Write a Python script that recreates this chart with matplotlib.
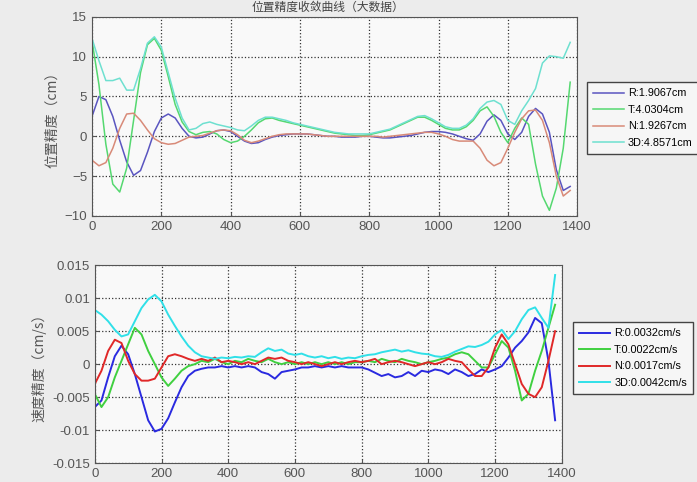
import matplotlib.pyplot as plt

plt.rcParams['font.family'] = ['Liberation Sans', 'Noto Sans CJK SC']

# 采样点
x = list(range(0, 1400, 20))

# 位置精度 (cm)
pos_r = [2.5, 5.0, 4.6, 2.5, -0.5, -3.2, -4.9, -4.3, -2.0, 0.6,
         2.3, 2.8, 2.3, 1.0, 0.0, -0.2, -0.1, 0.3, 0.7, 0.8,
         0.6, 0.0, -0.6, -0.9, -0.8, -0.4, -0.1, 0.1, 0.2, 0.3,
         0.3, 0.3, 0.2, 0.1, 0.0, 0.0, -0.1, -0.1, -0.1, 0.0,
         0.0, -0.1, -0.2, -0.2, -0.1, 0.0, 0.1, 0.3, 0.5, 0.6,
         0.6, 0.5, 0.3, 0.0, -0.3, -0.5, 0.3, 1.9, 2.7, 2.0,
         0.3, -0.4, 0.5, 2.5, 3.5, 2.8, 0.5, -4.2, -6.8, -6.3]
pos_t = [12.0, 6.5, -1.0, -6.0, -7.0, -4.0, 2.0, 8.0, 11.5, 12.3,
         10.8, 7.5, 4.0, 1.8, 0.6, 0.2, 0.5, 0.6, 0.3, -0.4,
         -0.8, -0.6, 0.0, 0.8, 1.7, 2.2, 2.3, 2.0, 1.8, 1.6,
         1.4, 1.2, 1.0, 0.8, 0.6, 0.4, 0.3, 0.2, 0.1, 0.1,
         0.2, 0.4, 0.6, 0.8, 1.2, 1.6, 2.0, 2.4, 2.4, 2.0,
         1.5, 1.0, 0.8, 0.8, 1.2, 2.0, 3.2, 3.7, 2.5, 0.5,
         -0.8, 1.0, 2.3, 1.5, -3.5, -7.5, -9.3, -6.5, -1.5, 6.8]
pos_n = [-3.0, -3.7, -3.3, -1.5, 1.0, 2.8, 2.9, 2.0, 0.8, -0.3,
         -0.8, -1.0, -0.9, -0.5, -0.1, 0.0, 0.1, 0.4, 0.7, 0.8,
         0.7, 0.2, -0.5, -0.8, -0.6, -0.3, 0.0, 0.2, 0.3, 0.3,
         0.3, 0.3, 0.2, 0.1, 0.0, 0.0, 0.0, 0.0, 0.0, 0.0,
         0.0, 0.0, -0.1, 0.0, 0.1, 0.2, 0.3, 0.4, 0.5, 0.5,
         0.3, 0.0, -0.4, -0.6, -0.6, -0.6, -1.5, -3.0, -3.7, -3.3,
         -1.5, 0.5, 2.2, 3.2, 3.3, 2.0, -0.8, -5.0, -7.5, -6.8]
pos_3d = [12.3, 9.5, 7.0, 7.0, 7.3, 5.8, 5.8, 8.5, 11.7, 12.5,
          11.2, 8.0, 4.8, 2.3, 0.8, 1.0, 1.6, 1.8, 1.5, 1.3,
          1.1, 0.8, 0.7, 1.3, 2.0, 2.4, 2.4, 2.2, 2.0, 1.7,
          1.5, 1.3, 1.1, 0.9, 0.7, 0.5, 0.4, 0.3, 0.3, 0.3,
          0.3, 0.5, 0.7, 0.9, 1.3, 1.7, 2.1, 2.5, 2.6, 2.2,
          1.7, 1.2, 1.0, 1.0, 1.4, 2.2, 3.5, 4.3, 4.5, 4.0,
          2.0, 1.5, 3.2, 4.5, 6.0, 9.2, 10.1, 10.0, 9.8, 11.8]

# 速度精度 (cm/s)
vel_r = [-0.0065, -0.0055, -0.002, 0.0012, 0.0028, 0.0015, -0.0015, -0.005, -0.0085, -0.0102,
         -0.0098, -0.0082, -0.0058, -0.0035, -0.0018, -0.0010, -0.0007, -0.0005, -0.0005, -0.0003,
         -0.0005, -0.0003, -0.0005, -0.0003, -0.0005, -0.0012, -0.0015, -0.0022, -0.0012, -0.0010,
         -0.0008, -0.0005, -0.0005, -0.0003, -0.0005, -0.0003, -0.0005, -0.0003, -0.0005, -0.0005,
         -0.0005, -0.0008, -0.0013, -0.0018, -0.0015, -0.0020, -0.0018, -0.0012, -0.0018, -0.0010,
         -0.0012, -0.0008, -0.0010, -0.0015, -0.0008, -0.0012, -0.0018, -0.0015, -0.0008, -0.0012,
         -0.0008, -0.0003, 0.0010, 0.0025, 0.0035, 0.0048, 0.0070, 0.0062, 0.0005, -0.0085]
vel_t = [-0.0045, -0.0065, -0.0050, -0.0020, 0.0005, 0.0030, 0.0055, 0.0045, 0.0020, 0.0000,
         -0.0020, -0.0033, -0.0022, -0.0010, -0.0003, 0.0000, 0.0005, 0.0003, 0.0008, 0.0003,
         0.0000, 0.0005, 0.0003, 0.0008, 0.0005, 0.0003, 0.0008, 0.0003, 0.0000, 0.0003,
         0.0000, 0.0003, 0.0000, 0.0003, 0.0000, 0.0003, 0.0000, 0.0003, 0.0000, 0.0003,
         0.0003, 0.0005, 0.0003, 0.0008, 0.0005, 0.0003, 0.0008, 0.0005, 0.0003, 0.0000,
         0.0003, 0.0005, 0.0008, 0.0010, 0.0015, 0.0018, 0.0015, 0.0005, -0.0005, -0.0005,
         0.0015, 0.0035, 0.0025, -0.0010, -0.0055, -0.0045, -0.0010, 0.0020, 0.0055, 0.0090]
vel_n = [-0.0030, -0.0010, 0.0020, 0.0037, 0.0032, 0.0005, -0.0015, -0.0025, -0.0025, -0.0022,
         -0.0005, 0.0012, 0.0015, 0.0012, 0.0008, 0.0005, 0.0008, 0.0005, 0.0010, 0.0003,
         0.0005, 0.0003, 0.0000, 0.0003, 0.0000, 0.0005, 0.0010, 0.0008, 0.0010, 0.0005,
         0.0003, 0.0000, 0.0003, 0.0000, -0.0003, 0.0000, 0.0003, 0.0000, 0.0003, 0.0005,
         0.0003, 0.0005, 0.0008, 0.0000, 0.0003, 0.0005, 0.0003, 0.0000, -0.0003, 0.0000,
         0.0003, 0.0000, 0.0003, 0.0008, 0.0005, 0.0003, -0.0008, -0.0018, -0.0018, -0.0005,
         0.0025, 0.0045, 0.0030, 0.0000, -0.0030, -0.0045, -0.0050, -0.0035, 0.0005, 0.0050]
vel_3d = [0.0082, 0.0075, 0.0065, 0.0052, 0.0042, 0.0045, 0.0065, 0.0085, 0.0098, 0.0105,
          0.0095, 0.0075, 0.0058, 0.0042, 0.0028, 0.0018, 0.0012, 0.0010, 0.0008, 0.0010,
          0.0009, 0.0011, 0.0010, 0.0012, 0.0011, 0.0018, 0.0024, 0.0020, 0.0022, 0.0016,
          0.0014, 0.0016, 0.0012, 0.0010, 0.0012, 0.0009, 0.0011, 0.0008, 0.0010, 0.0009,
          0.0012, 0.0014, 0.0015, 0.0018, 0.0020, 0.0022, 0.0019, 0.0021, 0.0018, 0.0016,
          0.0015, 0.0012, 0.0011, 0.0014, 0.0019, 0.0023, 0.0027, 0.0026, 0.0029, 0.0034,
          0.0045, 0.0052, 0.0038, 0.0050, 0.0068, 0.0082, 0.0086, 0.0070, 0.0055, 0.0135]

pos_labels = ['R:1.9067cm', 'T:4.0304cm', 'N:1.9267cm', '3D:4.8571cm']
vel_labels = ['R:0.0032cm/s', 'T:0.0022cm/s', 'N:0.0017cm/s', '3D:0.0042cm/s']

pos_colors = ['#5a55c0', '#55d870', '#d88a78', '#6ee0d0']
vel_colors = ['#2a2ae0', '#40d040', '#e02828', '#30e0e8']

fig = plt.figure(figsize=(6.97, 4.82), dpi=100, facecolor='#ececec')

leg_kw = dict(loc='upper left', bbox_transform=fig.transFigure, fancybox=False,
              edgecolor='#444444', framealpha=1, facecolor='#f6f6f6', fontsize=7.8,
              handlelength=2.8, handletextpad=0.4, labelspacing=0.6, borderaxespad=0,
              borderpad=0.6)

ax1 = fig.add_axes([0.132, 0.552, 0.696, 0.413], facecolor='#f9f9f9')
for ys, c, lb in zip([pos_r, pos_t, pos_n, pos_3d], pos_colors, pos_labels):
    ax1.plot(x, ys, color=c, lw=1.1, label=lb)
ax1.set_xlim(0, 1400)
ax1.set_ylim(-10, 15)
ax1.set_yticks([-10, -5, 0, 5, 10, 15])
ax1.set_ylabel('位置精度（cm）', family=['Noto Sans CJK SC'], color='#555555', fontsize=10)
ax1.legend(bbox_to_anchor=(0.842, 0.830), **leg_kw)

ax2 = fig.add_axes([0.136, 0.039, 0.670, 0.411], facecolor='#f9f9f9')
for ys, c, lb in zip([vel_r, vel_t, vel_n, vel_3d], vel_colors, vel_labels):
    ax2.plot(x, ys, color=c, lw=1.4, label=lb)
ax2.set_xlim(0, 1400)
ax2.set_ylim(-0.015, 0.015)
ax2.set_yticks([-0.015, -0.01, -0.005, 0, 0.005, 0.01, 0.015])
ax2.set_yticklabels(['-0.015', '-0.01', '-0.005', '0', '0.005', '0.01', '0.015'])
ax2.set_ylabel('速度精度（cm/s）', family=['Noto Sans CJK SC'], color='#555555', fontsize=10)
ax2.legend(bbox_to_anchor=(0.822, 0.332), **leg_kw)

for ax in (ax1, ax2):
    ax.set_xticks([0, 200, 400, 600, 800, 1000, 1200, 1400])
    ax.grid(True, linestyle=':', color='#333333', lw=0.9)
    ax.tick_params(colors='#555555', labelsize=9.5, direction='in', length=3)
    for s in ax.spines.values():
        s.set_color('#555555')

fig.text(0.47, 0.998, '位置精度收敛曲线（大数据）', family=['Noto Sans CJK SC'],
         ha='center', va='top', fontsize=8.5, color='#444444')

fig.savefig('out.png', dpi=100, facecolor=fig.get_facecolor())
